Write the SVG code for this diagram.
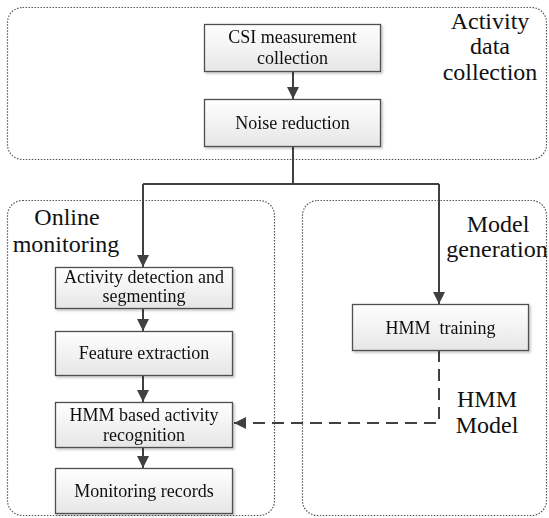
<svg xmlns="http://www.w3.org/2000/svg" width="549" height="518" viewBox="0 0 549 518">
<style>
.cont{fill:none;stroke:#555;stroke-width:1.2;stroke-dasharray:1.5 1.5}
.box{fill:url(#g);stroke:#505050;stroke-width:1.3}
.t{font-family:"Liberation Serif",serif;font-size:18px;fill:#111;text-anchor:middle}
.lt{font-family:"Liberation Serif",serif;font-size:24px;fill:#111;text-anchor:middle}
.c{fill:none;stroke:#404040;stroke-width:2}
.d{fill:none;stroke:#404040;stroke-width:2;stroke-dasharray:12 7}
</style>
<defs>
<linearGradient id="g" x1="0" y1="0" x2="0" y2="1">
<stop offset="0" stop-color="#ffffff"/>
<stop offset="1" stop-color="#e6e6e6"/>
</linearGradient>
<filter id="sh" x="-10%" y="-10%" width="130%" height="140%">
<feDropShadow dx="1.5" dy="1.5" stdDeviation="1" flood-color="#000" flood-opacity="0.25"/>
</filter>
<marker id="ah" viewBox="0 0 10 10" refX="10" refY="5" markerWidth="6" markerHeight="6" orient="auto">
<path d="M0,0 L10,5 L0,10 z" fill="#404040"/>
</marker>
</defs>
<rect width="549" height="518" fill="#fff"/>
<g id="containers">
<g id="activity-data-collection">
<rect class="cont" x="7.5" y="7.5" width="539" height="152" rx="15"/>
<text class="lt" x="490" y="29">Activity</text>
<text class="lt" x="490" y="54">data</text>
<text class="lt" x="490" y="80">collection</text>
</g>
<g id="online-monitoring">
<rect class="cont" x="7.5" y="200.5" width="267" height="315" rx="15"/>
<text class="lt" x="67" y="225">Online</text>
<text class="lt" x="66" y="252">monitoring</text>
</g>
<g id="model-generation">
<rect class="cont" x="302.5" y="200.5" width="244" height="315" rx="15"/>
<text class="lt" x="498" y="232" font-size="23">Model</text>
<text class="lt" x="497" y="257" font-size="23">generation</text>
</g>
<g id="hmm-model-label">
<text class="lt" x="487" y="407">HMM</text>
<text class="lt" x="487" y="433">Model</text>
</g>
</g>
<g id="connectors">
<path class="c" d="M293,71 V99" marker-end="url(#ah)"/>
<path class="c" d="M293,146 V184 M143,184 H439"/>
<path class="c" d="M143,184 V267" marker-end="url(#ah)"/>
<path class="c" d="M439,184 V304" marker-end="url(#ah)"/>
<path class="c" d="M143,308 V331" marker-end="url(#ah)"/>
<path class="c" d="M143,375 V402" marker-end="url(#ah)"/>
<path class="c" d="M143,447 V468" marker-end="url(#ah)"/>
<path class="d" d="M439,350 V423 H234" marker-end="url(#ah)"/>
</g>
<g id="n-csi" filter="url(#sh)">
<rect class="box" x="204.5" y="24.5" width="176" height="47"/>
<text class="t" x="292.5" y="43">CSI measurement</text>
<text class="t" x="292.5" y="64">collection</text>
</g>
<g id="n-noise" filter="url(#sh)">
<rect class="box" x="204.5" y="99.5" width="176" height="47"/>
<text class="t" x="292.5" y="129">Noise reduction</text>
</g>
<g id="n-detect" filter="url(#sh)">
<rect class="box" x="55.5" y="267.5" width="177" height="41"/>
<text class="t" x="144" y="283">Activity detection and</text>
<text class="t" x="144" y="302">segmenting</text>
</g>
<g id="n-feature" filter="url(#sh)">
<rect class="box" x="55.5" y="331.5" width="177" height="44"/>
<text class="t" x="144" y="359">Feature extraction</text>
</g>
<g id="n-recog" filter="url(#sh)">
<rect class="box" x="55.5" y="402.5" width="177" height="45"/>
<text class="t" x="144" y="421">HMM based activity</text>
<text class="t" x="144" y="441">recognition</text>
</g>
<g id="n-records" filter="url(#sh)">
<rect class="box" x="55.5" y="468.5" width="177" height="45"/>
<text class="t" x="144" y="497">Monitoring records</text>
</g>
<g id="n-training" filter="url(#sh)">
<rect class="box" x="352.5" y="304.5" width="176" height="46"/>
<text class="t" x="440.5" y="334" xml:space="preserve">HMM  training</text>
</g>
</svg>
